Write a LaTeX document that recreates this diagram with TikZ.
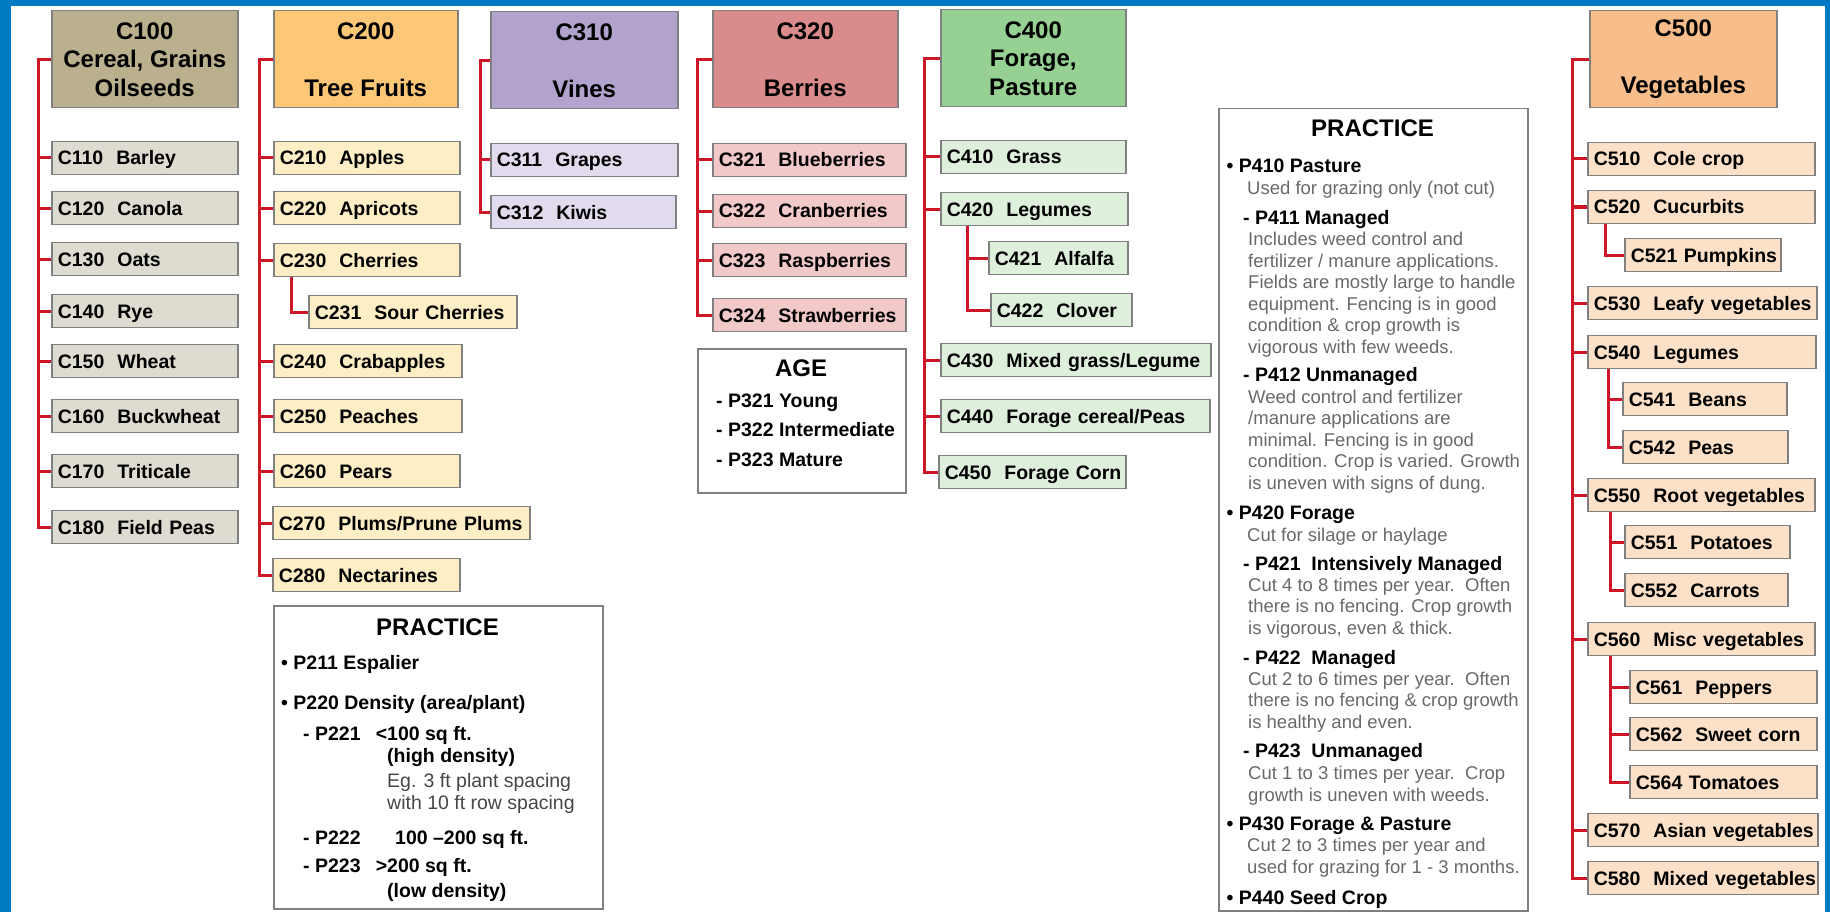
\documentclass[tikz,border=0pt]{standalone}
\usepackage{fontspec}
\setmainfont{Liberation Sans}
\usetikzlibrary{positioning}

\definecolor{frameblue}{RGB}{0,122,194}
\definecolor{linkred}{RGB}{204,22,40}
\definecolor{edgegray}{RGB}{128,128,128}
\definecolor{notegray}{RGB}{105,105,105}
\definecolor{notedark}{RGB}{70,70,70}
\definecolor{cerealdark}{RGB}{186,176,142}
\definecolor{cereallight}{RGB}{222,219,208}
\definecolor{fruitdark}{RGB}{252,200,120}
\definecolor{fruitlight}{RGB}{253,238,198}
\definecolor{vinedark}{RGB}{178,162,206}
\definecolor{vinelight}{RGB}{225,219,237}
\definecolor{berrydark}{RGB}{218,140,140}
\definecolor{berrylight}{RGB}{241,201,201}
\definecolor{foragedark}{RGB}{150,208,146}
\definecolor{foragelight}{RGB}{222,240,220}
\definecolor{vegdark}{RGB}{247,190,140}
\definecolor{veglight}{RGB}{252,225,200}

\tikzset{
  head/.style={draw=edgegray, line width=1.5pt, anchor=north west, inner sep=0pt,
    minimum width=#1, minimum height=97pt, align=center,
    font=\fontsize{24}{28.5}\selectfont\bfseries},
  leaf/.style={draw=edgegray, line width=1.5pt, anchor=west, inner xsep=6pt, inner ysep=0pt,
    minimum height=33pt, text width=#1, align=left, text height=18pt, text depth=4pt,
    font=\fontsize{19.5}{23}\selectfont\bfseries},
  branch/.style={draw=linkred, line width=3pt},
  panel/.style={draw=edgegray, line width=1.5pt, anchor=north west, inner sep=0pt},
  ptitle/.style={anchor=base, inner sep=0pt, font=\fontsize{24}{28}\selectfont\bfseries},
  pitem/.style={anchor=base west, inner sep=0pt, align=left,
    font=\fontsize{19.5}{22}\selectfont\bfseries},
  pnote/.style={anchor=base west, inner sep=0pt, align=left, text=notegray,
    font=\fontsize{18.5}{21.5}\selectfont},
}

\begin{document}
\begin{tikzpicture}[x=1pt, y=-1pt]
    \useasboundingbox (0,0) rectangle (1830,912);
    \fill[white] (0,0) rectangle (1830,912);
    % blue frame
    \fill[frameblue] (0,0) rectangle (1830,6);
    \fill[frameblue] (0,0) rectangle (11,912);
    \fill[frameblue] (1825,0) rectangle (1830,912);

    % main groups
    \node[head=186pt, fill=cerealdark] (c100) at (51,10) {C100\\Cereal, Grains\\Oilseeds};
    \node[head=184pt, fill=fruitdark] (c200) at (273,10) {C200\\[28.5pt]Tree Fruits};
    \node[head=187pt, fill=vinedark] (c310) at (490,11) {C310\\[28.5pt]Vines};
    \node[head=185pt, fill=berrydark] (c320) at (712,10) {C320\\[28.5pt]Berries};
    \node[head=185pt, fill=foragedark] (c400) at (940,9) {C400\\Forage,\\Pasture};
    \node[head=187pt, fill=vegdark] (c500) at (1589,10) {C500\\[28.5pt]Vegetables};

    % cereals
    \foreach \nm/\x/\y/\w/\t in {c110/51/158/186/{C110~~Barley}, c120/51/208/186/{C120~~Canola},
        c130/51/259/186/{C130~~Oats}, c140/51/311/186/{C140~~Rye},
        c150/51/361/186/{C150~~Wheat}, c160/51/416/186/{C160~~Buckwheat},
        c170/51/471/186/{C170~~Triticale}, c180/51/527/186/{C180~~Field~Peas}}{
        \pgfmathsetmacro{\tw}{\w-12}
        \node[leaf=\tw pt, fill=cereallight] (\nm) at (\x,\y) {\mbox{\t}};
    }
    % tree fruits
    \foreach \nm/\x/\y/\w/\t in {c210/273/158/186/{C210~~Apples}, c220/273/208/186/{C220~~Apricots},
        c230/273/260/186/{C230~~Cherries}, c231/308/312/208/{C231~~Sour~Cherries},
        c240/273/361/188/{C240~~Crabapples}, c250/273/416/188/{C250~~Peaches},
        c260/273/471/186/{C260~~Pears}, c270/272/523/257/{C270~~Plums/Prune~Plums},
        c280/272/575/187/{C280~~Nectarines}}{
        \pgfmathsetmacro{\tw}{\w-12}
        \node[leaf=\tw pt, fill=fruitlight] (\nm) at (\x,\y) {\mbox{\t}};
    }
    % vines
    \foreach \nm/\x/\y/\w/\t in {c311/490/160/187/{C311~~Grapes}, c312/490/212/185/{C312~~Kiwis}}{
        \pgfmathsetmacro{\tw}{\w-12}
        \node[leaf=\tw pt, fill=vinelight] (\nm) at (\x,\y) {\mbox{\t}};
    }
    % berries
    \foreach \nm/\x/\y/\w/\t in {c321/712/160/193/{C321~~Blueberries}, c322/712/211/193/{C322~~Cranberries},
        c323/712/260/193/{C323~~Raspberries}, c324/712/315/193/{C324~~Strawberries}}{
        \pgfmathsetmacro{\tw}{\w-12}
        \node[leaf=\tw pt, fill=berrylight] (\nm) at (\x,\y) {\mbox{\t}};
    }
    % forage
    \foreach \nm/\x/\y/\w/\t in {c410/940/157/185/{C410~~Grass}, c420/940/209/187/{C420~~Legumes},
        c421/988/258/139/{C421~~Alfalfa}, c422/990/310/141/{C422~~Clover},
        c430/940/360/270/{C430~~Mixed~grass/Legume}, c440/940/416/269/{C440~~Forage~cereal/Peas},
        c450/938/472/187/{C450~~Forage~Corn}}{
        \pgfmathsetmacro{\tw}{\w-12}
        \node[leaf=\tw pt, fill=foragelight] (\nm) at (\x,\y) {\mbox{\t}};
    }
    % vegetables
    \foreach \nm/\x/\y/\w/\t in {c510/1587/159/227/{C510~~Cole~crop}, c520/1587/207/227/{C520~~Cucurbits},
        c521/1624/255/156/{C521~Pumpkins}, c530/1587/303/229/{C530~~Leafy~vegetables},
        c540/1587/352/228/{C540~~Legumes}, c541/1622/399/164/{C541~~Beans},
        c542/1622/447/165/{C542~~Peas}, c550/1587/495/227/{C550~~Root~vegetables},
        c551/1624/542/165/{C551~~Potatoes}, c552/1624/590/163/{C552~~Carrots},
        c560/1587/639/227/{C560~~Misc~vegetables}, c561/1629/687/187/{C561~~Peppers},
        c562/1629/734/187/{C562~~Sweet~corn}, c564/1629/782/187/{C564~Tomatoes},
        c570/1587/830/230/{C570~~Asian~vegetables}, c580/1587/878/230/{C580~~Mixed~vegetables}}{
        \pgfmathsetmacro{\tw}{\w-12}
        \node[leaf=\tw pt, fill=veglight] (\nm) at (\x,\y) {\mbox{\t}};
    }

    % tree lines
    \foreach \nm in {c110,c120,c130,c140,c150,c160,c170,c180}
        \draw[branch] (c100.west) -- ++(-13,0) |- (\nm.west);
    \foreach \nm in {c210,c220,c230,c240,c250,c260,c270,c280}
        \draw[branch] (c200.west) -- ++(-14,0) |- (\nm.west);
    \draw[branch] ([xshift=18pt]c230.south west) |- (c231.west);
    \foreach \nm in {c311,c312}
        \draw[branch] (c310.west) -- ++(-10,0) |- (\nm.west);
    \foreach \nm in {c321,c322,c323,c324}
        \draw[branch] (c320.west) -- ++(-15,0) |- (\nm.west);
    \foreach \nm in {c410,c420,c430,c440,c450}
        \draw[branch] (c400.west) -- ++(-16,0) |- (\nm.west);
    \foreach \nm in {c421,c422}
        \draw[branch] ([xshift=27pt]c420.south west) |- (\nm.west);
    \foreach \nm in {c510,c520,c530,c540,c550,c560,c570,c580}
        \draw[branch] (c500.west) -- ++(-17,0) |- (\nm.west);
    \draw[branch] ([xshift=18pt]c520.south west) |- (c521.west);
    \foreach \nm in {c541,c542}
        \draw[branch] ([xshift=21pt]c540.south west) |- (\nm.west);
    \foreach \nm in {c551,c552}
        \draw[branch] ([xshift=23pt]c550.south west) |- (\nm.west);
    \foreach \nm in {c561,c562,c564}
        \draw[branch] ([xshift=23pt]c560.south west) |- (\nm.west);

    % practice for tree fruits (multi-line texts sit on their last line)
    \node[panel, minimum width=329pt, minimum height=303pt] (prfruit) at (273,605) {};
    \node[ptitle] (prfruittitle) at (437.5,635.5) {PRACTICE};
    \node[pitem] (p211) at (281,669) {\textbullet\ P211 Espalier};
    \node[pitem] (p220) at (281,709) {\textbullet\ P220 Density (area/plant)};
    \node[pitem] (p221) at (303,740) {- P221};
    \node[pitem] (p221v) at (387,809) {\llap{<}100 sq ft.\\(high density)\\[3pt]
        {\mdseries\color{notedark}Eg. 3 ft plant spacing}\\{\mdseries\color{notedark}with 10 ft row spacing}};
    \node[pitem] (p222) at (303,844) {- P222};
    \node[pitem] (p222v) at (395,844) {100 \textendash200 sq ft.};
    \node[pitem] (p223) at (303,872) {- P223};
    \node[pitem] (p223v) at (387,897) {\llap{>}200 sq ft.\\[3pt](low density)};

    % age for berries
    \node[panel, minimum width=208pt, minimum height=144pt] (agebox) at (697,348) {};
    \node[ptitle] (agetitle) at (801,376.5) {AGE};
    \node[pitem, font=\fontsize{19.5}{29.5}\selectfont\bfseries] (ages) at (716,466)
        {- P321 Young\\- P322 Intermediate\\- P323 Mature};

    % practice for forage
    \node[panel, minimum width=309pt, minimum height=802pt] (prforage) at (1218,108) {};
    \node[ptitle] (prforagetitle) at (1372.5,136.5) {PRACTICE};
    \node[pitem] (p410) at (1226.5,173) {\textbullet\ P410 Pasture};
    \node[pnote] (p410n) at (1247,195) {Used for grazing only (not cut)};
    \node[pitem] (p411) at (1243,224) {- P411 Managed};
    \node[pnote] (p411n) at (1248,353) {Includes weed control and\\fertilizer / manure applications.\\
        Fields are mostly large to handle\\equipment. Fencing is in good\\condition \& crop growth is\\
        vigorous with few weeds.};
    \node[pitem] (p412) at (1243,381) {- P412 Unmanaged};
    \node[pnote] (p412n) at (1248,489) {Weed control and fertilizer\\/manure applications are\\
        minimal. Fencing is in good\\condition. Crop is varied. Growth\\is uneven with signs of dung.};
    \node[pitem] (p420) at (1226.5,519) {\textbullet\ P420 Forage};
    \node[pnote] (p420n) at (1247,541) {Cut for silage or haylage};
    \node[pitem] (p421) at (1243,570) {- P421~~Intensively Managed};
    \node[pnote] (p421n) at (1248,634) {Cut 4 to 8 times per year.~~Often\\there is no fencing. Crop growth\\
        is vigorous, even \& thick.};
    \node[pitem] (p422) at (1243,664) {- P422~~Managed};
    \node[pnote] (p422n) at (1248,728) {Cut 2 to 6 times per year.~~Often\\there is no fencing \& crop growth\\
        is healthy and even.};
    \node[pitem] (p423) at (1243,757) {- P423~~Unmanaged};
    \node[pnote] (p423n) at (1248,801) {Cut 1 to 3 times per year.~~Crop\\growth is uneven with weeds.};
    \node[pitem] (p430) at (1226.5,830) {\textbullet\ P430 Forage \& Pasture};
    \node[pnote] (p430n) at (1247,873) {Cut 2 to 3 times per year and\\used for grazing for 1 - 3 months.};
    \node[pitem] (p440) at (1226.5,904) {\textbullet\ P440 Seed Crop};
\end{tikzpicture}
\end{document}
